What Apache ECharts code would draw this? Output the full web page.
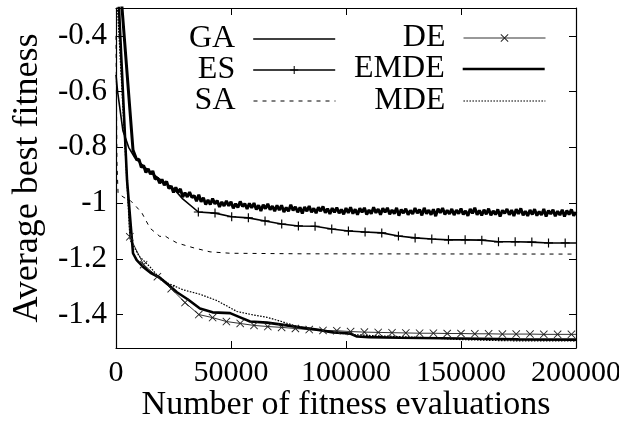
<!DOCTYPE html>
<html><head><meta charset="utf-8">
<script src="https://cdn.jsdelivr.net/npm/echarts@6/dist/echarts.min.js"></script>
<style>html,body{margin:0;padding:0;background:#fff}#c{width:619px;height:423px}</style>
</head><body><div id="c"></div>
<script>
// ---- data ----
const seriesNames = ['GA', 'ES', 'SA', 'DE', 'EMDE', 'MDE'];
const xMin = 0, xMax = 200000, xInterval = 50000;
const yMin = -1.52, yMax = -0.3;
const yTickValues = [-1.4, -1.2, -1, -0.8, -0.6, -0.4];
const xAxisTitle = 'Number of fitness evaluations';
const yAxisTitle = 'Average best fitness';

// GA: steep start, then a noisy curve sampled every 1000 evaluations from 8000
const gaHead = [[0, -0.02], [7400, -0.81]];
const gaNoisyStart = 8000, gaNoisyStep = 1000;
const gaNoisy = [
  -0.811,-0.845,-0.843,-0.872,-0.865,-0.890,-0.877,-0.896,-0.885,-0.914,
  -0.909,-0.929,-0.915,-0.936,-0.922,-0.948,-0.939,-0.962,-0.944,-0.962,
  -0.949,-0.978,-0.963,-0.978,-0.961,-0.980,-0.973,-0.993,-0.970,-0.995,
  -0.981,-1.005,-0.989,-1.005,-0.984,-1.003,-0.991,-1.014,-0.996,-1.010,
  -0.992,-1.010,-0.995,-1.019,-1.002,-1.016,-0.994,-1.012,-1.002,-1.021,
  -1.001,-1.017,-1.000,-1.023,-1.008,-1.028,-1.006,-1.020,-1.003,-1.024,
  -1.011,-1.029,-1.008,-1.025,-1.008,-1.032,-1.016,-1.029,-1.006,-1.026,
  -1.013,-1.033,-1.015,-1.037,-1.014,-1.029,-1.011,-1.033,-1.019,-1.036,
  -1.015,-1.029,-1.012,-1.035,-1.020,-1.039,-1.018,-1.033,-1.016,-1.036,
  -1.023,-1.040,-1.018,-1.035,-1.015,-1.038,-1.022,-1.042,-1.019,-1.033,
  -1.017,-1.041,-1.025,-1.038,-1.015,-1.035,-1.021,-1.042,-1.019,-1.033,
  -1.017,-1.040,-1.025,-1.038,-1.017,-1.045,-1.023,-1.036,-1.020,-1.042,
  -1.026,-1.039,-1.018,-1.036,-1.023,-1.044,-1.017,-1.038,-1.025,-1.042,
  -1.022,-1.047,-1.020,-1.035,-1.018,-1.041,-1.026,-1.039,-1.021,-1.043,
  -1.025,-1.038,-1.020,-1.041,-1.028,-1.046,-1.021,-1.037,-1.017,-1.042,
  -1.026,-1.044,-1.024,-1.040,-1.020,-1.044,-1.028,-1.041,-1.023,-1.048,
  -1.026,-1.037,-1.021,-1.042,-1.025,-1.046,-1.022,-1.039,-1.019,-1.044,
  -1.029,-1.046,-1.025,-1.041,-1.022,-1.045,-1.030,-1.043,-1.021,-1.048,
  -1.027,-1.039,-1.024,-1.047,-1.029,-1.043,-1.024,-1.048,-1.027,-1.041,
  -1.023,-1.045,-1.032
];
const esData = [
  [0,-0.54],[700,-0.6],[3000,-0.74],[5500,-0.8],[8000,-0.835],[12000,-0.868],
  [16000,-0.895],[20000,-0.92],[25000,-0.948],[29000,-0.985],
  [35800,-1.032],[43050,-1.036],[50300,-1.049],[57550,-1.053],[64800,-1.064],
  [72050,-1.075],[79300,-1.082],[86550,-1.083],[93800,-1.093],[101050,-1.100],
  [108300,-1.104],[115550,-1.107],[122800,-1.118],[130050,-1.125],[137300,-1.129],
  [144550,-1.132],[151800,-1.132],[159050,-1.133],[166300,-1.139],[173550,-1.139],
  [180800,-1.140],[188050,-1.143],[195300,-1.143],[200000,-1.143]
];
const saData = [
  [0,-0.4],[400,-0.85],[900,-0.965],[3500,-0.98],[6100,-0.99],[8500,-1.01],
  [11300,-1.036],[14800,-1.09],[19100,-1.12],[21000,-1.116],[22600,-1.125],
  [26500,-1.143],[33500,-1.16],[40900,-1.175],[49600,-1.18],[80000,-1.182],
  [200000,-1.183]
];
const deData = [
  [0,-0.1],[6000,-1.121],[12000,-1.221],[18000,-1.264],[24000,-1.307],[30000,-1.357],
  [36000,-1.400],[42000,-1.411],[48000,-1.425],[54000,-1.432],[60000,-1.439],
  [66000,-1.443],[72000,-1.446],[78000,-1.450],[84000,-1.454],[90000,-1.457],
  [96000,-1.458],[102000,-1.461],[108000,-1.463],[114000,-1.464],[120000,-1.465],
  [126000,-1.466],[132000,-1.467],[138000,-1.467],[144000,-1.468],[150000,-1.468],
  [156000,-1.469],[162000,-1.469],[168000,-1.470],[174000,-1.470],[180000,-1.470],
  [186000,-1.471],[192000,-1.471],[198000,-1.471],[200000,-1.471]
];
const emdeData = [
  [0,-0.07],[1300,-0.3],[4800,-0.918],[7400,-1.18],[9000,-1.205],[11700,-1.228],
  [15000,-1.25],[19100,-1.268],[23000,-1.295],[26500,-1.32],[31300,-1.346],
  [36500,-1.378],[42000,-1.392],[49600,-1.395],[54000,-1.41],[58300,-1.425],
  [65700,-1.429],[72000,-1.436],[80000,-1.446],[88000,-1.455],[94400,-1.464],
  [101800,-1.468],[104800,-1.479],[110000,-1.481],[123500,-1.483],[150000,-1.486],
  [175000,-1.489],[200000,-1.490]
];
const mdeData = [
  [0,-0.2],[6100,-1.132],[10000,-1.19],[14800,-1.229],[18000,-1.26],[22200,-1.286],
  [29100,-1.311],[36500,-1.327],[43900,-1.35],[52600,-1.389],[60000,-1.402],
  [65700,-1.41],[72000,-1.425],[78700,-1.443],[87400,-1.454],[94400,-1.464],
  [101800,-1.471],[110000,-1.475],[123500,-1.479],[135000,-1.483],[150000,-1.49],
  [170000,-1.494],[200000,-1.495]
];

// ---- build ----
const FONT = 'Liberation Serif';
const gaData = gaHead.concat(gaNoisy.map((v, i) => [gaNoisyStart + i * gaNoisyStep, v]));
const PLUS = 'path://M4.35,0H5.65V4.35H10V5.65H5.65V10H4.35V5.65H0V4.35H4.35Z';
const CROSS = 'path://M0.8,0L5,4.2L9.2,0L10,0.8L5.8,5L10,9.2L9.2,10L5,5.8L0.8,10L0,9.2L4.2,5L0,0.8Z';

function marked(data, fromX, toX) {
  return data.map(p => (p[0] < fromX || p[0] > toX) ? { value: p, symbol: 'none' } : p);
}

const base = { type: 'line', xAxisIndex: 0, yAxisIndex: 0, silent: true,
  emphasis: { disabled: true }, animation: false, clip: true };

const series = [
  Object.assign({}, base, { name: 'GA', data: gaData, symbol: 'none',
    lineStyle: { color: '#000', width: 3 }, itemStyle: { color: '#000' } }),
  Object.assign({}, base, { name: 'ES', data: marked(esData, 35000, 196000), symbol: PLUS, symbolSize: 9,
    lineStyle: { color: '#000', width: 1.6 }, itemStyle: { color: '#000' } }),
  Object.assign({}, base, { name: 'SA', data: saData, symbol: 'none',
    lineStyle: { color: '#000', width: 1, type: [4, 5] }, itemStyle: { color: '#000' } }),
  Object.assign({}, base, { name: 'DE', data: marked(deData, 1000, 199000), symbol: CROSS, symbolSize: 8,
    lineStyle: { color: '#333', width: 1 }, itemStyle: { color: '#222' } }),
  Object.assign({}, base, { name: 'EMDE', data: emdeData, symbol: 'none',
    lineStyle: { color: '#000', width: 2.6 }, itemStyle: { color: '#000' } }),
  Object.assign({}, base, { name: 'MDE', data: mdeData, symbol: 'none',
    lineStyle: { color: '#000', width: 1.2, type: [1.6, 1.4] }, itemStyle: { color: '#000' } })
];
const legendHasSymbol = { GA: false, ES: true, SA: false, DE: true, EMDE: false, MDE: false };
const legendLineWidth = { GA: 1.6, ES: 1.6, SA: 1, DE: 1, EMDE: 2.6, MDE: 1.2 };

const legendPos = [
  { right: 283, top: 23 }, { right: 283, top: 54 }, { right: 283, top: 85 },
  { right: 73, top: 22 }, { right: 73, top: 53 }, { right: 73, top: 85 }
];
const legends = seriesNames.map((n, i) => ({
  data: [n], right: legendPos[i].right, top: legendPos[i].top, orient: 'horizontal',
  align: 'right', itemWidth: 82, itemHeight: 10, padding: 0, selectedMode: false,
  itemStyle: legendHasSymbol[n] ? {} : { opacity: 0 },
  lineStyle: { width: legendLineWidth[n] },
  textStyle: { fontFamily: FONT, fontSize: 32, color: '#000', lineHeight: 31, padding: [0, 13, 0, 0] }
}));

const axisLineStyle = { lineStyle: { color: '#000', width: 1.2 } };
const tickStyle = { inside: true, length: 7, lineStyle: { color: '#000', width: 1 } };
const labelFont = { fontFamily: FONT, fontSize: 30, color: '#000' };

const option = {
  animation: false,
  backgroundColor: '#fff',
  grid: { left: 116, right: 43, top: 8, bottom: 75, containLabel: false, outerBoundsMode: 'none' },
  legend: legends,
  xAxis: [
    { type: 'value', position: 'bottom', min: xMin, max: xMax, interval: xInterval,
      axisLine: Object.assign({ onZero: false }, axisLineStyle), axisTick: tickStyle,
      splitLine: { show: false },
      axisLabel: Object.assign({ margin: 10, formatter: v => String(v) }, labelFont),
      name: xAxisTitle, nameLocation: 'middle', nameGap: 40, nameMoveOverlap: false,
      nameTextStyle: { fontFamily: FONT, fontSize: 34, color: '#000' } },
    { type: 'value', position: 'top', min: xMin, max: xMax, interval: xInterval,
      axisLine: Object.assign({ onZero: false }, axisLineStyle), axisTick: tickStyle,
      splitLine: { show: false }, axisLabel: { show: false } }
  ],
  yAxis: [
    { type: 'value', position: 'left', min: yMin, max: yMax,
      axisLine: Object.assign({ show: true, onZero: false }, axisLineStyle),
      axisTick: Object.assign({ customValues: yTickValues }, tickStyle),
      splitLine: { show: false },
      axisLabel: Object.assign({ margin: 9, customValues: yTickValues, formatter: v => String(v) }, labelFont, { fontSize: 31 }),
      name: yAxisTitle, nameLocation: 'middle', nameGap: 70, nameRotate: 90, nameMoveOverlap: false,
      nameTextStyle: { fontFamily: FONT, fontSize: 36, color: '#000' } },
    { type: 'value', position: 'right', min: yMin, max: yMax,
      axisLine: Object.assign({ show: true, onZero: false }, axisLineStyle),
      axisTick: Object.assign({ customValues: yTickValues }, tickStyle),
      splitLine: { show: false }, axisLabel: { show: false } }
  ],
  series: series
};

const chart = echarts.init(document.getElementById('c'), null, { renderer: 'canvas' });
chart.setOption(option);
</script>
</body></html>
